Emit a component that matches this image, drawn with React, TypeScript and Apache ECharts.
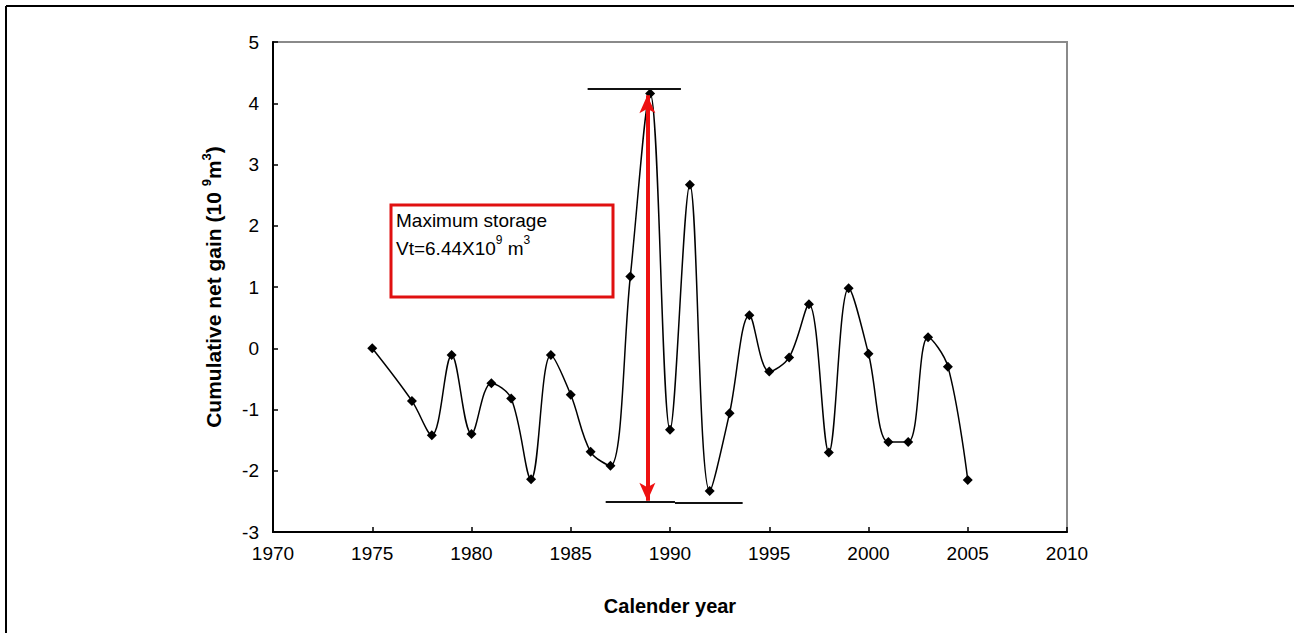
import React, { useEffect, useRef } from "react";
import * as echarts from "echarts";

const years = [1975, 1977, 1978, 1979, 1980, 1981, 1982, 1983, 1984, 1985, 1986, 1987, 1988, 1989, 1990, 1991, 1992, 1993, 1994, 1995, 1996, 1997, 1998, 1999, 2000, 2001, 2002, 2003, 2004, 2005];
const gains = [0, -0.86, -1.42, -0.11, -1.4, -0.57, -0.82, -2.14, -0.11, -0.76, -1.69, -1.92, 1.17, 4.16, -1.33, 2.67, -2.33, -1.06, 0.54, -0.38, -0.15, 0.72, -1.7, 0.98, -0.09, -1.53, -1.53, 0.18, -0.3, -2.15];

// annotation lines (data coordinates)
const maxLine = [[1985.85, 4.23], [1990.55, 4.23]];
const minLineA = [[1986.76, -2.5], [1990.25, -2.5]];
const minLineB = [[1990.25, -2.53], [1993.66, -2.53]];
const arrowX = 1988.86;
const arrowY = [4.13, -2.49];

const xTicks = { min: 1970, max: 2010, interval: 5 };
const yTicks = { min: -3, max: 5, interval: 1 };

const FONT = "'Liberation Sans', Arial, sans-serif";

export default function App() {
  const ref = useRef<HTMLDivElement>(null);
  useEffect(() => {
    if (!ref.current) return;
    const chart = echarts.init(ref.current, null, { renderer: "svg" });
    const data = years.map((y, i) => [y, gains[i]]);
    chart.setOption({
      animation: false,
      backgroundColor: "#ffffff",
      grid: {
        left: 273,
        right: 227,
        top: 42,
        bottom: 101,
        show: true,
        borderColor: "#8a8a8a",
        borderWidth: 2,
      },
      xAxis: {
        type: "value",
        min: xTicks.min,
        max: xTicks.max,
        interval: xTicks.interval,
        name: "Calender year",
        nameLocation: "middle",
        nameGap: 64,
        nameTextStyle: { fontFamily: FONT, fontSize: 20, fontWeight: "bold", color: "#000" },
        axisLine: { show: true, onZero: false, lineStyle: { color: "#000", width: 2 } },
        axisTick: { show: true, inside: true, length: 5, lineStyle: { color: "#000", width: 1.5 } },
        axisLabel: { fontFamily: FONT, fontSize: 19, color: "#000", margin: 12, formatter: (v: number) => String(v) },
        splitLine: { show: false },
      },
      yAxis: {
        type: "value",
        min: yTicks.min,
        max: yTicks.max,
        interval: yTicks.interval,
        name: "Cumulative net gain (10 {sup|9}m{sup|3})",
        nameLocation: "middle",
        nameGap: 47,
        nameRotate: 90,
        nameTextStyle: {
          fontFamily: FONT,
          fontSize: 21,
          fontWeight: "bold",
          color: "#000",
          lineHeight: 26,
          rich: {
            sup: { fontFamily: FONT, fontSize: 13, fontWeight: "bold", color: "#000", lineHeight: 14, verticalAlign: "top" },
          },
        },
        axisLine: { show: true, onZero: false, lineStyle: { color: "#000", width: 2 } },
        axisTick: { show: true, inside: true, length: 5, lineStyle: { color: "#000", width: 1.5 } },
        axisLabel: { fontFamily: FONT, fontSize: 19, color: "#000", margin: 14 },
        splitLine: { show: false },
      },
      series: [
        {
          type: "line",
          data,
          smooth: 0.35,
          symbol: "diamond",
          symbolSize: 10,
          itemStyle: { color: "#000" },
          lineStyle: { color: "#000", width: 1.5 },
          z: 3,
          markLine: {
            silent: true,
            symbol: "none",
            label: { show: false },
            lineStyle: { color: "#111", width: 2, type: "solid" },
            data: [
              [{ coord: maxLine[0] }, { coord: maxLine[1] }],
              [{ coord: minLineA[0] }, { coord: minLineA[1] }],
              [{ coord: minLineB[0] }, { coord: minLineB[1] }],
            ],
          },
        },
        {
          type: "line",
          data: [[arrowX, arrowY[0]], [arrowX, arrowY[1]]],
          showSymbol: false,
          symbol: "none",
          lineStyle: { opacity: 0 },
          z: 4,
          markLine: {
            silent: true,
            symbol: ["arrow", "arrow"],
            symbolSize: [12, 18],
            label: { show: false },
            lineStyle: { color: "#ee1111", width: 4, type: "solid" },
            itemStyle: { color: "#ee1111" },
            data: [[{ coord: [arrowX, arrowY[0]] }, { coord: [arrowX, arrowY[1]] }]],
          },
        },
      ],
      graphic: [
        { type: "line", shape: { x1: 6, y1: 6, x2: 1294, y2: 6 }, style: { stroke: "#000", lineWidth: 2 } },
        { type: "line", shape: { x1: 6, y1: 6, x2: 6, y2: 633 }, style: { stroke: "#000", lineWidth: 2 } },
        {
          type: "rect",
          shape: { x: 391, y: 205, width: 222, height: 92 },
          style: { fill: "#fff", stroke: "#e01010", lineWidth: 3 },
          z: 10,
        },
        {
          type: "text",
          x: 396,
          y: 206,
          z: 11,
          style: {
            text: "Maximum storage\nVt=6.44X10{sup|9} m{sup|3}",
            fontFamily: FONT,
            fontSize: 19,
            lineHeight: 28,
            fill: "#000",
            rich: {
              sup: { fontFamily: FONT, fontSize: 12, lineHeight: 14, verticalAlign: "top", fill: "#000" },
            },
          },
        },
      ],
    });
    return () => chart.dispose();
  }, []);
  return <div ref={ref} style={{ position: "fixed", left: 0, top: 0, width: 1294, height: 633 }} />;
}
